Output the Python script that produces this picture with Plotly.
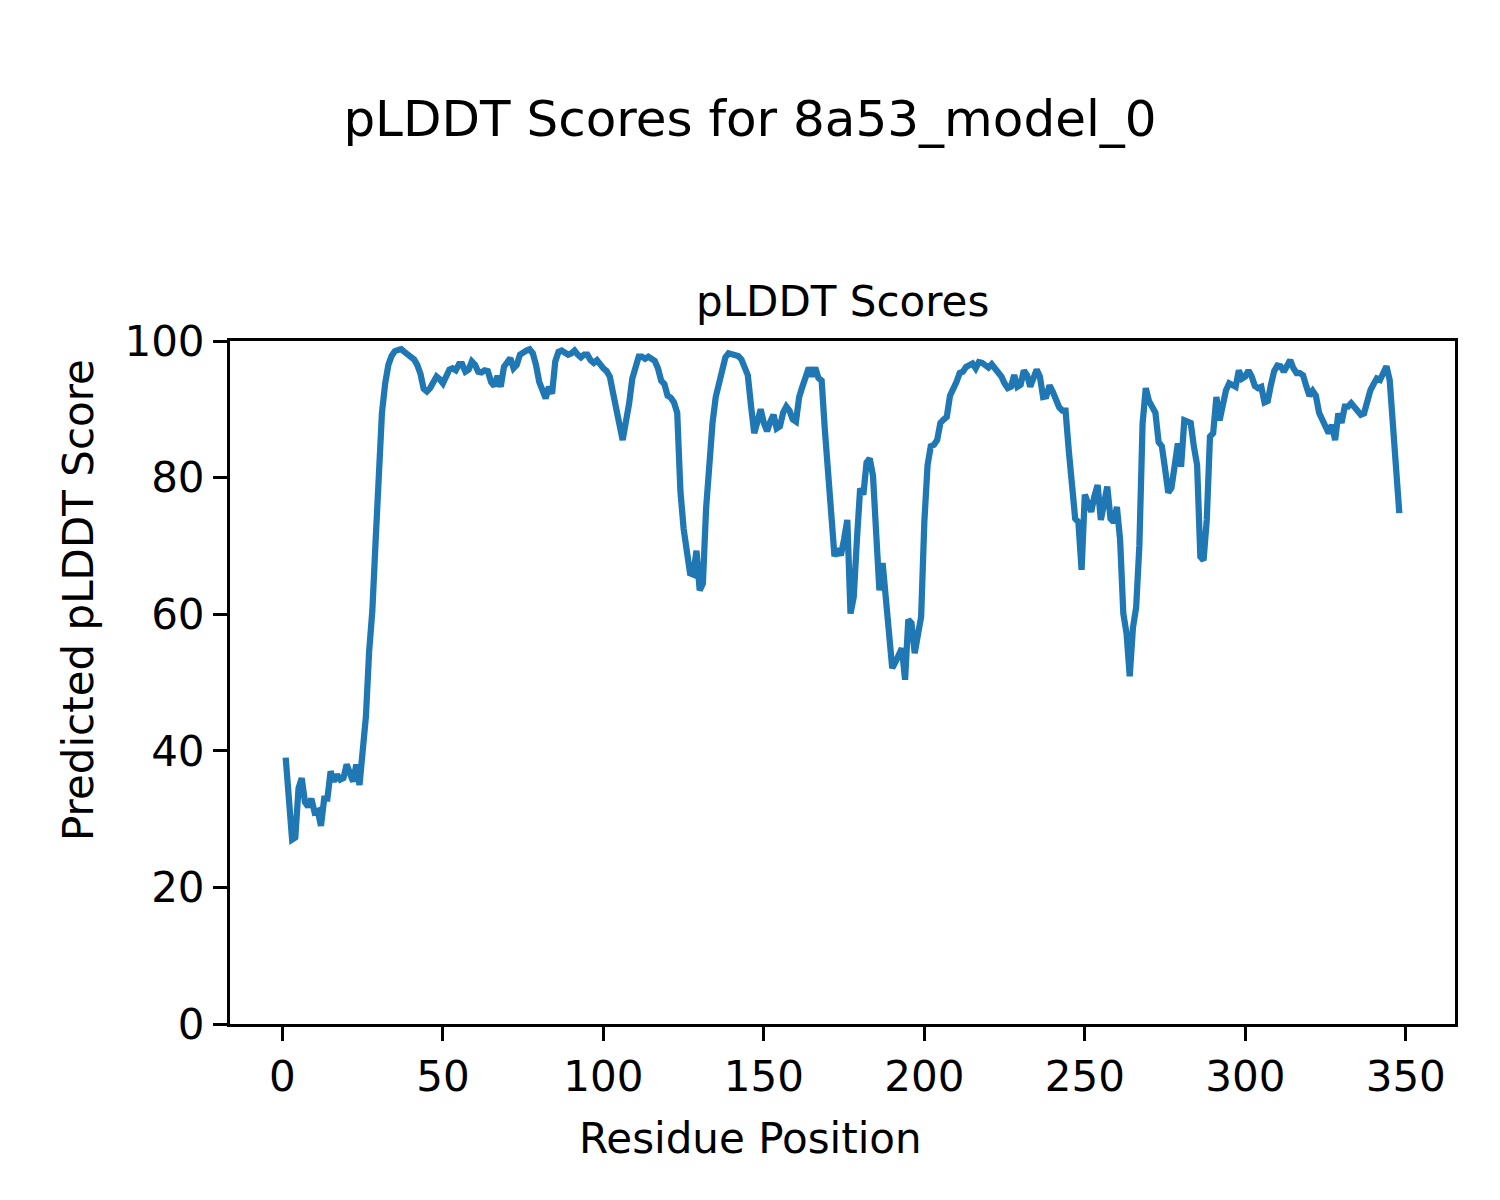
import plotly.graph_objects as go

# Residue positions and pLDDT scores
residues = list(range(1, 349))
plddt = [
    39.0, 33.0, 27.0, 27.3, 34.5, 36.0, 32.5, 31.8, 33.0, 31.0,
    31.2, 29.0, 33.0, 33.0, 37.0, 35.5, 36.5, 35.8, 36.0, 38.0,
    36.5, 35.5, 38.0, 35.0, 40.0, 45.0, 54.5, 60.5, 70.5, 81.0,
    89.5, 93.8, 96.5, 97.8, 98.5, 98.7, 98.8, 98.4, 98.0, 97.4,
    97.3, 96.5, 95.2, 93.0, 92.6, 93.1, 94.2, 94.8, 94.4, 93.8,
    94.8, 95.8, 96.0, 95.7, 96.6, 96.6, 95.5, 95.8, 97.0, 96.5,
    95.5, 95.4, 95.7, 95.6, 94.0, 93.4, 94.9, 93.3, 96.2, 96.7,
    97.5, 96.0, 96.5, 98.0, 98.4, 98.6, 98.8, 98.2, 96.5, 94.0,
    92.8, 91.6, 93.3, 92.3, 97.0, 98.4, 98.6, 98.3, 98.0, 98.2,
    98.6, 98.0, 97.6, 98.0, 98.0, 97.2, 96.8, 97.2, 96.4, 96.0,
    95.6, 94.8, 92.4, 90.5, 87.8, 85.5, 88.0, 90.8, 94.5, 96.3,
    97.7, 97.7, 97.4, 97.7, 97.3, 97.1, 96.0, 94.2, 93.7, 92.0,
    91.7, 91.0, 89.5, 78.0, 72.5, 68.5, 66.0, 65.8, 69.3, 63.5,
    64.5, 75.5, 82.0, 88.0, 91.8, 94.0, 96.0, 97.6, 98.2, 98.0,
    97.9, 97.8, 97.3, 96.3, 95.0, 90.5, 86.5, 88.2, 90.0, 88.0,
    86.8, 88.2, 89.2, 87.2, 87.5, 89.5, 90.4, 89.8, 88.5, 88.2,
    91.8, 93.3, 94.5, 96.1, 94.8, 96.1, 94.6, 94.2, 87.0, 80.5,
    72.0, 68.5, 69.6, 68.6, 71.0, 73.8, 60.1, 62.5, 71.0, 78.4,
    77.5, 82.2, 82.8, 80.3, 71.8, 63.5, 67.5, 62.0, 55.5, 52.1,
    53.0, 54.3, 55.0, 50.4, 59.2, 58.7, 54.3, 57.0, 59.6, 73.5,
    81.8, 84.6, 84.8, 85.5, 88.0, 88.5, 88.9, 92.0, 92.8, 94.0,
    95.3, 95.5, 96.2, 96.6, 96.7, 96.0, 96.9, 96.8, 96.4, 96.1,
    96.6, 96.0, 95.5, 94.8, 93.8, 93.1, 93.3, 95.0, 93.3, 93.6,
    95.7, 95.0, 93.3, 94.4, 95.8, 94.8, 91.8, 91.9, 93.5, 92.6,
    91.5, 90.3, 89.8, 89.8, 84.0, 79.0, 74.0, 73.5, 66.5, 77.5,
    76.5, 75.0, 77.3, 78.9, 73.8, 75.8, 78.7, 74.0, 73.5, 75.7,
    70.9, 60.1, 57.2, 50.9, 58.0, 61.0, 70.0, 87.9, 93.1, 91.2,
    90.3, 89.5, 85.2, 84.6, 81.3, 77.8, 78.5, 81.5, 85.0, 81.6,
    88.4, 88.2, 88.0, 84.5, 81.8, 68.4, 67.9, 73.8, 86.0, 86.5,
    91.8, 88.4, 90.8, 92.8, 93.8, 93.4, 93.3, 95.7, 94.5, 94.8,
    95.7, 94.8, 93.4, 93.1, 93.3, 91.0, 91.2, 93.6, 95.6, 96.4,
    96.3, 95.5, 96.4, 97.2, 96.0, 95.3, 95.3, 95.0, 93.4, 92.0,
    92.7, 92.0, 89.5, 88.4, 87.2, 86.5, 87.7, 85.5, 89.4, 88.0,
    90.4, 90.4, 90.9, 90.3, 89.6, 89.2, 89.4, 91.3, 92.8, 93.7,
    94.5, 94.3, 95.5, 96.3, 94.3, 88.0, 81.5, 74.8,
]

x_ticks = [0, 50, 100, 150, 200, 250, 300, 350]
y_ticks = [0, 20, 40, 60, 80, 100]

FONT = "DejaVu Sans"

fig = go.Figure()
fig.add_trace(go.Scatter(
    x=residues, y=plddt, mode="lines",
    line=dict(color="#1f77b4", width=6.25),
    showlegend=False,
))

# Page has an 8px body margin; compensate so the picture lines up.
OFF = 8
W, H = 1500 - OFF, 1200 - OFF
# plot area in picture pixels: left 230, right 1455, top 341, bottom 1024
L, R, T, B = 230 - OFF, 1455 - OFF, 341 - OFF, 1024 - OFF
pw, ph = R - L, B - T

def px(x):
    return (x - OFF - L) / pw

def py(y):
    return (B - (y - OFF)) / ph

fig.update_layout(
    width=W, height=H,
    margin=dict(l=L, r=W - R, t=T, b=H - B, pad=0),
    paper_bgcolor="white", plot_bgcolor="white",
    font=dict(family=FONT, color="black", size=42),
    title=dict(text="pLDDT Scores for 8a53_model_0", x=px(750), xref="paper",
               xanchor="center",
               y=1 - (118 - OFF) / H, yanchor="middle", yref="container",
               font=dict(family=FONT, size=50, color="black")),
    xaxis=dict(range=[-16.35, 365.35], tickvals=x_ticks, ticks="outside",
               ticklen=14, tickwidth=3, tickcolor="black", showgrid=False,
               zeroline=False, showline=True, linewidth=3, linecolor="black",
               mirror=True, tickfont=dict(family=FONT, size=42, color="black")),
    yaxis=dict(range=[0, 100], tickvals=y_ticks, ticks="outside",
               ticklen=14, tickwidth=3, tickcolor="black", showgrid=False,
               zeroline=False, showline=True, linewidth=3, linecolor="black",
               mirror=True, tickfont=dict(family=FONT, size=42, color="black")),
    annotations=[
        dict(text="pLDDT Scores", xref="paper", yref="paper", x=0.5, y=py(302),
             xanchor="center", yanchor="middle", showarrow=False,
             font=dict(family=FONT, size=42, color="black")),
        dict(text="Residue Position", xref="paper", yref="paper", x=px(750), y=py(1138),
             xanchor="center", yanchor="middle", showarrow=False,
             font=dict(family=FONT, size=42, color="black")),
        dict(text="Predicted pLDDT Score", xref="paper", yref="paper", x=px(78), y=py(600),
             xanchor="center", yanchor="middle", showarrow=False, textangle=-90,
             font=dict(family=FONT, size=42, color="black")),
    ],
)

fig.write_html("out.html")
